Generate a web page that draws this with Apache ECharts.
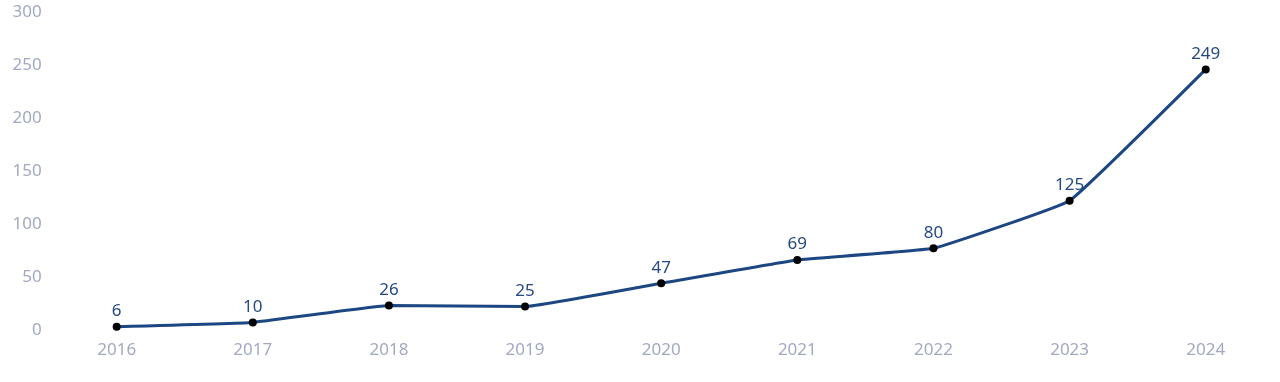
<!DOCTYPE html>
<html><head><meta charset="utf-8">
<script src="https://cdn.jsdelivr.net/npm/echarts@6/dist/echarts.min.js"></script>
<style>html,body{margin:0;padding:0;background:#fff}#c{width:1280px;height:382px}</style>
</head><body><div id="c"></div>
<script>
const years = ['2016','2017','2018','2019','2020','2021','2022','2023','2024'];
const counts = [6, 10, 26, 25, 47, 69, 80, 125, 249];
const yTicks = {min: 0, max: 300, interval: 50};

const chart = echarts.init(document.getElementById('c'), null, {renderer: 'canvas'});
chart.setOption({
  animation: false,
  grid: {left: 48.6, right: 6.2, top: 15.4, bottom: 49},
  xAxis: {
    type: 'category', data: years, boundaryGap: true,
    axisLine: {show: false}, axisTick: {show: false},
    axisLabel: {color: '#a3a8c3', fontSize: 17, fontFamily: 'Noto Sans', margin: 9}
  },
  yAxis: {
    type: 'value', min: yTicks.min, max: yTicks.max, interval: yTicks.interval,
    splitLine: {show: false}, axisLine: {show: false}, axisTick: {show: false},
    axisLabel: {
      color: '#a3a8c3', fontSize: 17, fontFamily: 'Noto Sans', margin: 7,
      formatter: '{a|{value}}',
      rich: {a: {color: '#a3a8c3', fontSize: 17, fontFamily: 'Noto Sans', padding: [0, 0, 6, 0]}}
    }
  },
  series: [{
    type: 'line', data: counts, smooth: 0.08,
    lineStyle: {color: '#1c4783', width: 3},
    symbol: 'circle', symbolSize: 8,
    itemStyle: {color: '#000000', borderWidth: 0},
    label: {show: true, position: 'top', distance: 3, color: '#254a80', fontSize: 17, fontFamily: 'Noto Sans'}
  }]
});
</script></body></html>
